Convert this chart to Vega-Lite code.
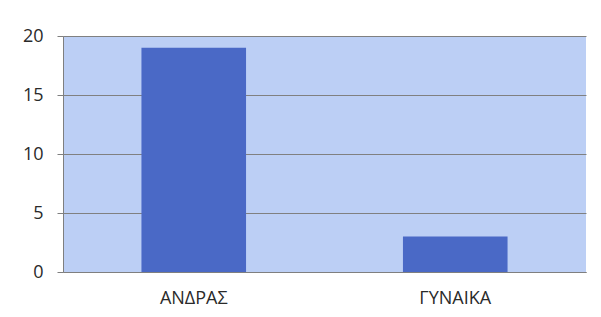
{
  "$schema": "https://vega.github.io/schema/vega-lite/v6.json",
  "autosize": {"type": "none"},
  "padding": {"left": 63, "top": 36, "right": 15, "bottom": 45},
  "width": 523,
  "height": 236,
  "background": "white",
  "config": {
    "view": {"fill": "#bccff5", "stroke": null},
    "font": "Open Sans"
  },
  "data": {
    "values": [
      {"category": "ΑΝΔΡΑΣ", "value": 19},
      {"category": "ΓΥΝΑΙΚΑ", "value": 3}
    ]
  },
  "mark": {"type": "bar", "color": "#4a69c6"},
  "encoding": {
    "x": {
      "field": "category",
      "type": "nominal",
      "sort": null,
      "scale": {"paddingInner": 0.6, "paddingOuter": 0.3},
      "axis": {
        "title": null,
        "labelAngle": 0,
        "labelFontSize": 18,
        "labelColor": "#2a2a2a",
        "labelPadding": 17,
        "domainColor": "#7f7f7f",
        "ticks": false,
        "grid": false
      }
    },
    "y": {
      "field": "value",
      "type": "quantitative",
      "scale": {"domain": [0, 20]},
      "axis": {
        "title": null,
        "values": [0, 5, 10, 15, 20],
        "labelFontSize": 18,
        "labelColor": "#2a2a2a",
        "labelPadding": 14,
        "tickSize": 6,
        "tickColor": "#7f7f7f",
        "domainColor": "#7f7f7f",
        "gridColor": "#808080",
        "gridOpacity": 1,
        "gridWidth": 1
      }
    }
  }
}
